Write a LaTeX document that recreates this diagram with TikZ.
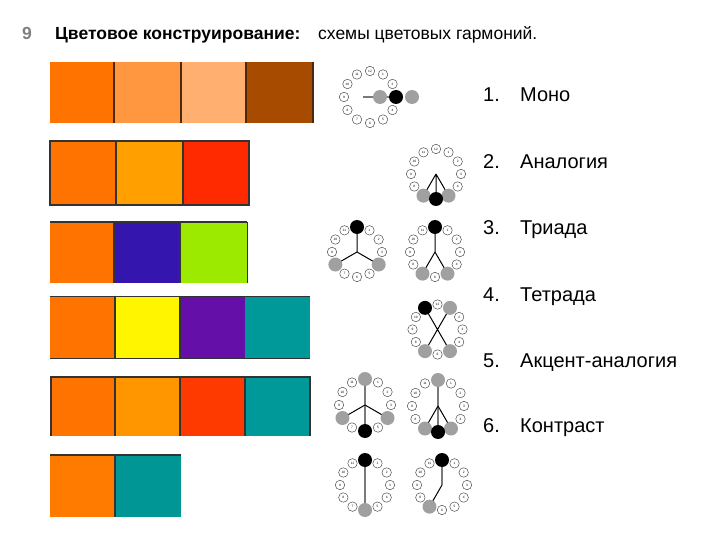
\documentclass[tikz,border=0pt]{standalone}
\usepackage{fontspec}
\setmainfont{Liberation Sans}
\usetikzlibrary{calc}
\definecolor{orA}{HTML}{FF7300}
\definecolor{orB}{HTML}{FF9640}
\definecolor{orC}{HTML}{FFB070}
\definecolor{brD}{HTML}{A64B00}
\definecolor{amb}{HTML}{FF9F00}
\definecolor{redA}{HTML}{FF2A00}
\definecolor{redB}{HTML}{FF3A00}
\definecolor{blu}{HTML}{3415AE}
\definecolor{lim}{HTML}{9BEA00}
\definecolor{yel}{HTML}{FFF500}
\definecolor{vio}{HTML}{6410A8}
\definecolor{tea}{HTML}{009999}
\definecolor{amb2}{HTML}{FF9600}
\definecolor{or6}{HTML}{FF7B00}
\definecolor{dotgray}{HTML}{A0A0A0}
\definecolor{linegray}{HTML}{7A7A7A}
\definecolor{edge}{HTML}{333333}
\definecolor{edgebr}{HTML}{4A2A10}
\newcommand\ringwheel[4]{%
  \coordinate (#1) at (#2,#3);
  \foreach \k in {1,...,12}{%
    \coordinate (#1p\k) at ($(#1)+({30*\k-90}:#4)$);
    \node[smallc] (#1s\k) at (#1p\k) {\k};
  }}
\begin{document}
\begin{tikzpicture}[x=1pt,y=-1pt,
  smallc/.style={circle,draw=black!75,line width=0.45pt,fill=white,minimum size=9.5pt,inner sep=0pt,font=\fontsize{3.2}{3.2}\selectfont},
  gdot/.style={circle,fill=dotgray,minimum size=14pt,inner sep=0pt},
  bdot/.style={circle,fill=black,minimum size=14pt,inner sep=0pt},
  blk/.style={draw=black,line width=1pt},
  gln/.style={draw=linegray,line width=1.6pt},
  lab/.style={anchor=base west,inner sep=0pt,font=\fontsize{20}{24}\selectfont}]
\useasboundingbox (0,0) rectangle (720,540);
% title
\node[anchor=base west,inner sep=0pt,text=black!50,font=\bfseries\fontsize{17.5}{20}\selectfont] (num) at (22,40) {9};
\node[anchor=base west,inner sep=0pt,font=\bfseries\fontsize{17.5}{20}\selectfont] (ttl) at (55,40) {Цветовое конструирование:};
\node[anchor=base west,inner sep=0pt,font=\fontsize{17.5}{20}\selectfont] (sub) at (318,40) {схемы цветовых гармоний.};
% row 1
\fill[orA] (50,62) rectangle (114,123);
\fill[orB] (114,62) rectangle (181,123);
\fill[orC] (181,62) rectangle (246,123);
\fill[brD] (246,62) rectangle (313,123);
\draw[edgebr,line width=1.5pt] (114,62) -- (114,123) (181,62) -- (181,123) (246,62) -- (246,123) (313,62) -- (313,123);
% row 2
\fill[orA] (50,141) rectangle (116,205);
\fill[amb] (116,141) rectangle (183,205);
\fill[redA] (183,141) rectangle (249,205);
\draw[edge,line width=2.2pt] (50,141) rectangle (249,205);
\draw[edge,line width=1.8pt] (116,141) -- (116,205) (183,141) -- (183,205);
% row 3
\fill[orA] (50,222) rectangle (114,283);
\fill[blu] (114,222) rectangle (180,283);
\fill[lim] (180,222) rectangle (247,283);
\draw[edge,line width=1.8pt] (50,222) -- (247,222);
\draw[edge,line width=1.5pt] (114,222) -- (114,283) (180,222) -- (180,283);
\draw[edgebr,line width=1pt] (247,222) -- (247,283);
% row 4
\fill[orA] (50,296) rectangle (115,358);
\fill[yel] (115,296) rectangle (180,358);
\fill[vio] (180,296) rectangle (245,358);
\fill[tea] (245,296) rectangle (310,358);
\draw[edge,line width=1pt] (50,296) -- (310,296) (50,358) -- (310,358);
\draw[edge,line width=1.3pt] (115,296) -- (115,358) (180,296) -- (180,358);
% row 5
\fill[orA] (51,377) rectangle (115,436);
\fill[amb2] (115,377) rectangle (180,436);
\fill[redB] (180,377) rectangle (245,436);
\fill[tea] (245,377) rectangle (310,436);
\draw[edge,line width=2pt] (51,436) -- (51,377) -- (310,377) -- (310,436);
\draw[edge,line width=1.2pt] (115,377) -- (115,436) (180,377) -- (180,436) (245,377) -- (245,436);
% row 6
\fill[or6] (50,455) rectangle (115,517);
\fill[tea!98!black] (115,455) rectangle (181,517);
\draw[edge,line width=1.2pt] (50,455) -- (181,455);
\draw[edge,line width=1.6pt] (115,455) -- (115,517);
% wheel 1 mono
\ringwheel{wa}{370}{97}{26}
\coordinate (wain) at (380,97);
\coordinate (waout) at (412,97);
\coordinate (wast) at (363,97);
\draw[gln] (wast) -- (wap3);
\node[gdot] (wag1) at (wain) {};
\node[gdot] (wag2) at (waout) {};
\node[bdot] (wab) at (wap3) {};
% wheel 2 analogy
\ringwheel{wb}{436}{174}{25}
\draw[blk] (wb) -- (wbp5) (wb) -- (wbp6) (wb) -- (wbp7);
\node[gdot] (wbg1) at (wbp5) {};
\node[gdot] (wbg2) at (wbp7) {};
\node[bdot] (wbb) at (wbp6) {};
% wheel 3a triad
\ringwheel{wc}{357}{252}{25}
\draw[blk] (wc) -- (wcp12) (wc) -- (wcp4) (wc) -- (wcp8);
\node[gdot] (wcg1) at (wcp4) {};
\node[gdot] (wcg2) at (wcp8) {};
\node[bdot] (wcb) at (wcp12) {};
% wheel 3b
\ringwheel{wd}{435}{252}{25}
\draw[blk] (wd) -- (wdp12) (wd) -- (wdp5) (wd) -- (wdp7);
\node[gdot] (wdg1) at (wdp5) {};
\node[gdot] (wdg2) at (wdp7) {};
\node[bdot] (wdb) at (wdp12) {};
% wheel 4 tetrad
\ringwheel{we}{437.5}{329.5}{25}
\draw[blk] (wep11) -- (wep5) (wep1) -- (wep7);
\node[gdot] (weg1) at (wep1) {};
\node[gdot] (weg2) at (wep5) {};
\node[gdot] (weg3) at (wep7) {};
\node[bdot] (web) at (wep11) {};
% wheel 5a accent
\ringwheel{wf}{365}{405}{26}
\draw[gln] (wfp12) -- (wfp6);
\draw[blk] (wf) -- (wfp4) (wf) -- (wfp8);
\node[gdot] (wfg1) at (wfp12) {};
\node[gdot] (wfg2) at (wfp4) {};
\node[gdot] (wfg3) at (wfp8) {};
\node[bdot] (wfb) at (wfp6) {};
% wheel 5b
\ringwheel{wg}{438}{406}{26}
\draw[gln] (wgp12) -- (wgp6);
\draw[blk] (wg) -- (wgp5) (wg) -- (wgp7);
\node[gdot] (wgg1) at (wgp12) {};
\node[gdot] (wgg2) at (wgp5) {};
\node[gdot] (wgg3) at (wgp7) {};
\node[bdot] (wgb) at (wgp6) {};
% wheel 6a contrast
\ringwheel{wh}{365}{485}{25}
\draw[gln] (whp12) -- (whp6);
\node[gdot] (whg) at (whp6) {};
\node[bdot] (whb) at (whp12) {};
% wheel 6b
\ringwheel{wi}{442}{485}{25}
\draw[gln] (wip12) -- (wi);
\draw[blk] (wi) -- (wip7);
\node[gdot] (wig) at (wip7) {};
\node[bdot] (wib) at (wip12) {};
% list
\node[lab] (n1) at (483,102) {1.};
\node[lab] (t1) at (520,102) {Моно};
\node[lab] (n2) at (483,169) {2.};
\node[lab] (t2) at (520,169) {Аналогия};
\node[lab] (n3) at (483,235) {3.};
\node[lab] (t3) at (520,235) {Триада};
\node[lab] (n4) at (483,301) {4.};
\node[lab] (t4) at (520,301) {Тетрада};
\node[lab] (n5) at (483,367) {5.};
\node[lab] (t5) at (520,367) {Акцент-аналогия};
\node[lab] (n6) at (483,432) {6.};
\node[lab] (t6) at (520,432) {Контраст};
\end{tikzpicture}
\end{document}
